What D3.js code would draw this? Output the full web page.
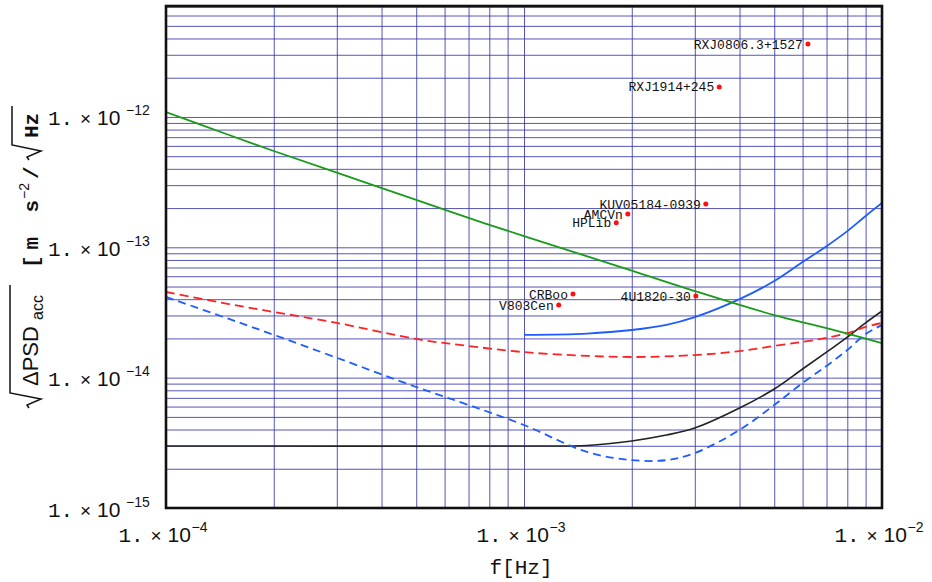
<!DOCTYPE html>
<html><head><meta charset="utf-8">
<script src="https://cdn.jsdelivr.net/npm/d3@7"></script>
<style>body{margin:0;background:#fff}</style>
</head><body><svg id="c" width="932" height="582"></svg>
<script>
// ---- data ----
const greenF = [1e-4,1.5e-4,2e-4,3e-4,5e-4,7e-4,1e-3,2e-3,3e-3,5e-3,7e-3,1e-2];
const greenV = [1.09e-12,7.27e-13,5.48e-13,3.74e-13,2.31e-13,1.68e-13,1.22e-13,6.63e-14,4.62e-14,3.02e-14,2.40e-14,1.84e-14];

const blueSolidF = [1e-3,1.5e-3,2e-3,2.5e-3,3e-3,4e-3,5e-3,6e-3,7e-3,8e-3,9e-3,1e-2];
const blueSolidV = [2.13e-14,2.18e-14,2.32e-14,2.54e-14,2.91e-14,4.00e-14,5.51e-14,7.72e-14,1.02e-13,1.33e-13,1.74e-13,2.19e-13];

const redDashF = [1e-4,1.5e-4,2e-4,3e-4,5e-4,7e-4,1e-3,1.5e-3,2e-3,3e-3,4e-3,5e-3,6e-3,7e-3,8e-3,9e-3,1e-2];
const redDashV = [4.54e-14,3.67e-14,3.19e-14,2.63e-14,1.98e-14,1.75e-14,1.57e-14,1.47e-14,1.44e-14,1.49e-14,1.60e-14,1.75e-14,1.88e-14,2.02e-14,2.20e-14,2.45e-14,2.63e-14];

const blueDashF = [1e-4,1.5e-4,2e-4,3e-4,5e-4,7e-4,1e-3,1.5e-3,2e-3,2.5e-3,3e-3,4e-3,5e-3,6e-3,7e-3,8e-3,9e-3,1e-2];
const blueDashV = [4.16e-14,2.82e-14,2.13e-14,1.42e-14,8.48e-15,6.17e-15,4.33e-15,2.69e-15,2.33e-15,2.33e-15,2.64e-15,3.97e-15,6.17e-15,9.10e-15,1.23e-14,1.63e-14,2.16e-14,2.54e-14];

const blackF = [1e-4,1e-3,1.5e-3,2e-3,2.5e-3,3e-3,4e-3,5e-3,6e-3,7e-3,8e-3,9e-3,1e-2];
const blackV = [2.99e-15,2.99e-15,3.02e-15,3.27e-15,3.63e-15,4.11e-15,5.85e-15,8.18e-15,1.165e-14,1.57e-14,2.05e-14,2.63e-14,3.245e-14];

const srcNames = ["RXJ0806.3+1527","RXJ1914+245","KUV05184-0939","AMCVn","HPLib","CRBoo","V803Cen","4U1820-30"];
const srcF = [6.21e-3,3.51e-3,3.22e-3,1.95e-3,1.81e-3,1.37e-3,1.25e-3,3.02e-3];
const srcV = [3.63e-12,1.70e-12,2.15e-13,1.80e-13,1.54e-13,4.38e-14,3.61e-14,4.23e-14];

const xTicks = [1e-4,1e-3,1e-2];
const xTickExp = ["-4","-3","-2"];
const yTicks = [1e-15,1e-14,1e-13,1e-12];
const yTickExp = ["-15","-14","-13","-12"];

// ---- layout ----
const L=166, R=882, T=6, B=508;
const svg = d3.select("#c");
const x = d3.scaleLog().domain([1e-4,1e-2]).range([L,R]);
const y = d3.scaleLog().domain([1e-15,7.1e-12]).range([B,T]);

const gridX=[], gridY=[];
for (let e=-4;e<=-3;e++) for (let k=1;k<=9;k++) gridX.push(k*Math.pow(10,e));
gridX.push(1e-2);
for (let e=-15;e<=-12;e++) for (let k=1;k<=9;k++){const v=k*Math.pow(10,e); if(v<=7.1e-12) gridY.push(v);}

const gridColor="#2c2ca6";
const gx = svg.append("g").attr("transform",`translate(0,${B})`)
  .call(d3.axisBottom(x).tickValues(gridX).tickSize(-(B-T)).tickFormat(""));
gx.select(".domain").remove();
gx.selectAll("line").attr("stroke",gridColor).attr("stroke-opacity",0.8);
const gy = svg.append("g").attr("transform",`translate(${L},0)`)
  .call(d3.axisLeft(y).tickValues(gridY).tickSize(-(R-L)).tickFormat(""));
gy.select(".domain").remove();
gy.selectAll("line").attr("stroke",gridColor).attr("stroke-opacity",0.8);

svg.append("clipPath").attr("id","clip").append("rect").attr("x",L).attr("y",T).attr("width",R-L).attr("height",B-T);
const plot = svg.append("g").attr("clip-path","url(#clip)");

function curve(F,V,color,dash,w){
  const pts = F.map((f,i)=>[x(f),y(V[i])]);
  plot.append("path").attr("d", d3.line().curve(d3.curveCatmullRom.alpha(0.5))(pts))
    .attr("fill","none").attr("stroke",color).attr("stroke-width",w)
    .attr("stroke-dasharray",dash||null);
}
curve(blackF,blackV,"#222","",1.6);
curve(blueDashF,blueDashV,"#1f5cff","8,5",1.8);
curve(redDashF,redDashV,"#ff2222","9,5",1.8);
curve(blueSolidF,blueSolidV,"#1f5cff","",1.8);
curve(greenF,greenV,"#1a9a1a","",1.8);

srcNames.forEach((n,i)=>{
  const px=x(srcF[i]), py=y(srcV[i]);
  svg.append("circle").attr("cx",px).attr("cy",py).attr("r",2.5).attr("fill","#ff1010");
  svg.append("text").attr("x",px-5).attr("y",py).attr("dy","0.35em")
    .attr("text-anchor","end").attr("font-family","'Liberation Mono', monospace")
    .attr("font-size",13).attr("fill","#111").text(n);
});

svg.append("rect").attr("x",L).attr("y",T).attr("width",R-L).attr("height",B-T)
  .attr("fill","none").attr("stroke","#111").attr("stroke-width",2.6);

const sans="'Liberation Sans', Arial, sans-serif", mono="'Liberation Mono', monospace";
const ax = svg.append("g").attr("transform",`translate(0,${B})`)
  .call(d3.axisBottom(x).tickValues(xTicks).tickSize(0).tickFormat(""));
ax.select(".domain").remove();
ax.selectAll(".tick").each(function(d,i){
  const t=d3.select(this).append("text").attr("fill","#111").attr("text-anchor","start");
  t.append("tspan").attr("x",-48).attr("y",34).attr("font-family",mono).attr("font-size",21).text("1.");
  t.append("tspan").attr("x",-16).attr("y",34).attr("font-family",sans).attr("font-size",19).text("×");
  t.append("tspan").attr("x",1).attr("y",34).attr("font-family",sans).attr("font-size",21).text("10");
  t.append("tspan").attr("x",25).attr("y",24).attr("font-family",sans).attr("font-size",14).text(xTickExp[i].replace("-","\u2212"));
});
const ay = svg.append("g").attr("transform",`translate(155,0)`)
  .call(d3.axisLeft(y).tickValues(yTicks).tickSize(0).tickFormat(""));
ay.select(".domain").remove();
ay.selectAll(".tick").each(function(d,i){
  const t=d3.select(this).append("text").attr("fill","#111").attr("text-anchor","start");
  t.append("tspan").attr("x",-107).attr("y",8).attr("font-family",mono).attr("font-size",21).text("1.");
  t.append("tspan").attr("x",-75).attr("y",8).attr("font-family",sans).attr("font-size",19).text("×");
  t.append("tspan").attr("x",-58).attr("y",8).attr("font-family",sans).attr("font-size",21).text("10");
  t.append("tspan").attr("x",-29).attr("y",-2).attr("font-family",sans).attr("font-size",14).text(yTickExp[i].replace("-","\u2212"));
});

svg.append("text").attr("x",521).attr("y",574).attr("text-anchor","middle")
  .attr("font-family",mono).attr("font-size",21).attr("fill","#111").text("f[Hz]");

const yt = svg.append("g").attr("transform","translate(38,408) rotate(-90)");
yt.append("path").attr("d","M0,-9 L3,-11 L9,3 L15,-28 L123,-28").attr("fill","none").attr("stroke","#111").attr("stroke-width",1.5);
yt.append("text").attr("x",22).attr("y",0).attr("font-family",sans).attr("font-size",22).attr("fill","#111").text("ΔPSD");
yt.append("text").attr("x",88).attr("y",5).attr("font-family",sans).attr("font-size",16).attr("fill","#111").text("acc");
yt.append("text").attr("x",140).attr("y",0).attr("font-family",mono).attr("font-weight","bold").attr("font-size",21)
  .attr("textLength",68).attr("lengthAdjust","spacing").attr("fill","#111").text("[m s");
yt.append("text").attr("x",209).attr("y",-9).attr("font-family",sans).attr("font-size",14).attr("fill","#111").text("\u22122");
yt.append("text").attr("x",229).attr("y",0).attr("font-family",mono).attr("font-weight","bold").attr("font-size",21).attr("fill","#111").text("/");
yt.append("path").attr("d","M248,-9 L251,-11 L257,3 L263,-26 L302,-26").attr("fill","none").attr("stroke","#111").attr("stroke-width",1.5);
yt.append("text").attr("x",270).attr("y",0).attr("font-family",mono).attr("font-weight","bold").attr("font-size",21).attr("fill","#111").text("Hz");
</script></body></html>
